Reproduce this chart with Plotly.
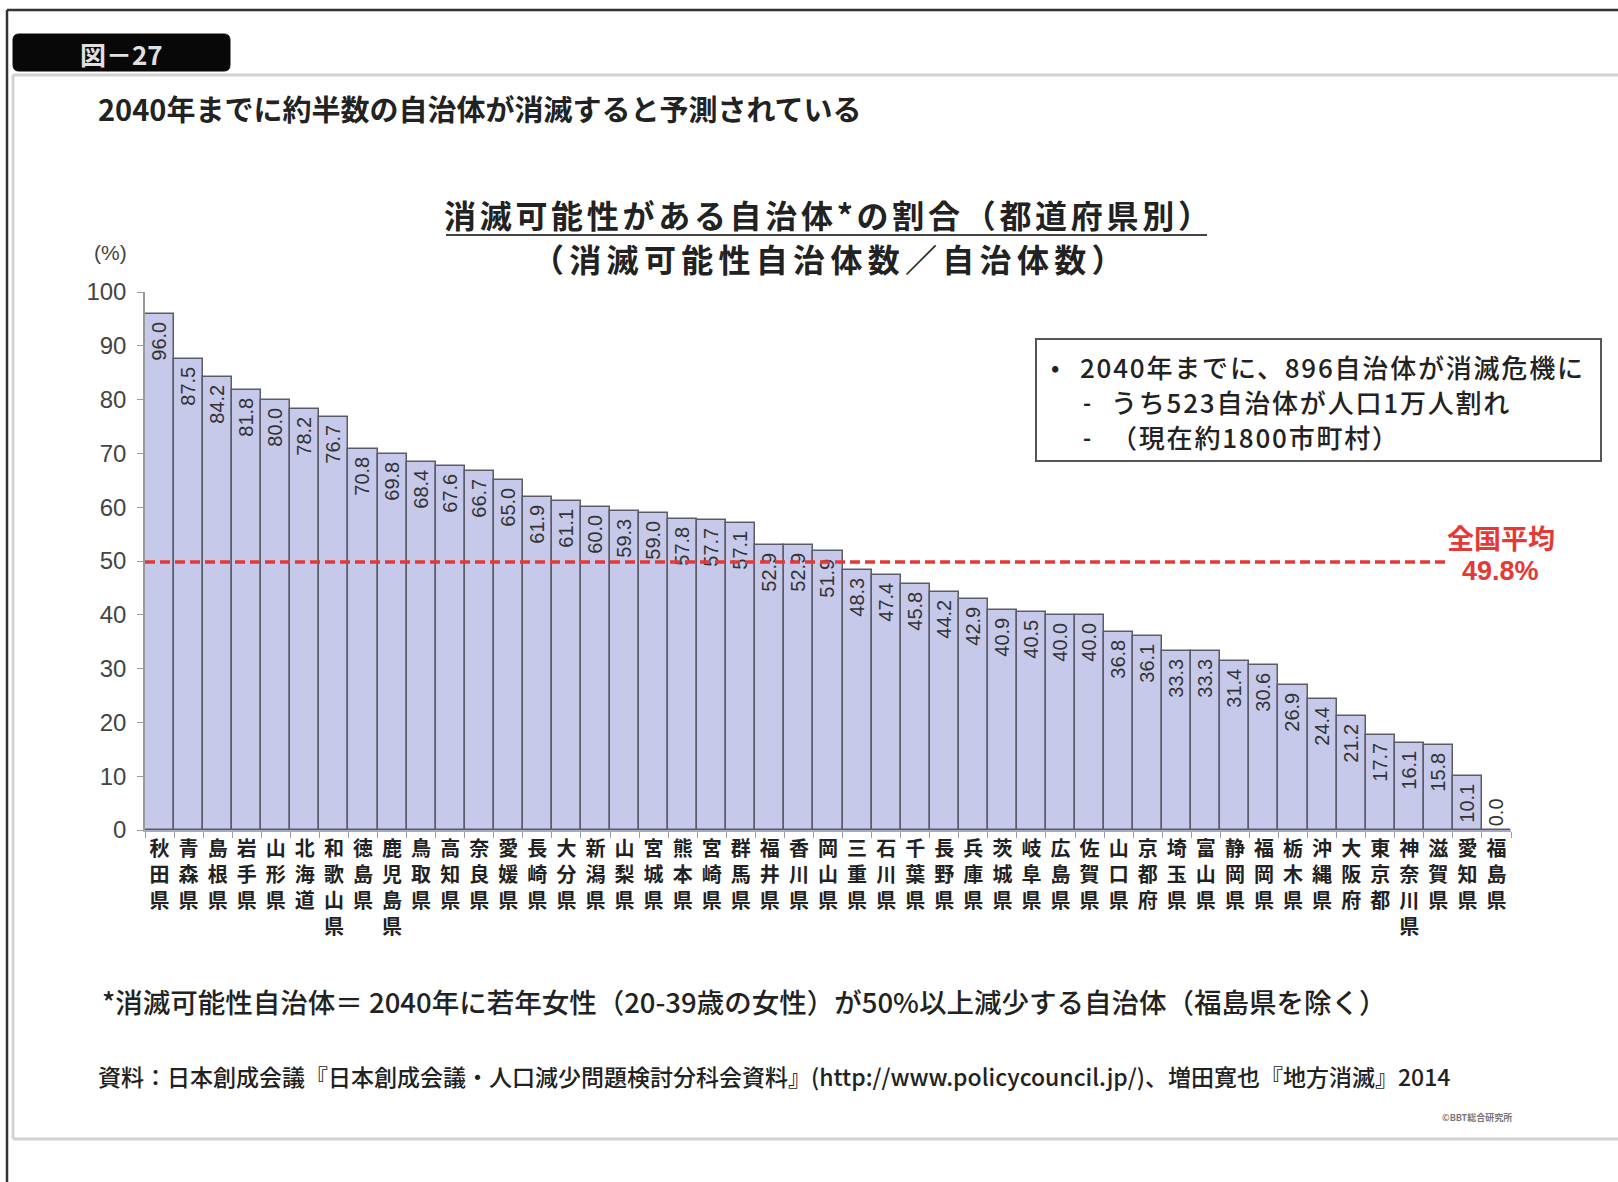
import plotly.graph_objects as go

# ---------------- data ----------------
prefectures = [
    "秋田県", "青森県", "島根県", "岩手県", "山形県", "北海道", "和歌山県", "徳島県",
    "鹿児島県", "鳥取県", "高知県", "奈良県", "愛媛県", "長崎県", "大分県", "新潟県",
    "山梨県", "宮城県", "熊本県", "宮崎県", "群馬県", "福井県", "香川県", "岡山県",
    "三重県", "石川県", "千葉県", "長野県", "兵庫県", "茨城県", "岐阜県", "広島県",
    "佐賀県", "山口県", "京都府", "埼玉県", "富山県", "静岡県", "福岡県", "栃木県",
    "沖縄県", "大阪府", "東京都", "神奈川県", "滋賀県", "愛知県", "福島県",
]
values = [
    96.0, 87.5, 84.2, 81.8, 80.0, 78.2, 76.7, 70.8,
    69.8, 68.4, 67.6, 66.7, 65.0, 61.9, 61.1, 60.0,
    59.3, 59.0, 57.8, 57.7, 57.1, 52.9, 52.9, 51.9,
    48.3, 47.4, 45.8, 44.2, 42.9, 40.9, 40.5, 40.0,
    40.0, 36.8, 36.1, 33.3, 33.3, 31.4, 30.6, 26.9,
    24.4, 21.2, 17.7, 16.1, 15.8, 10.1, 0.0,
]
national_avg = 49.8
y_tick_values = [0, 10, 20, 30, 40, 50, 60, 70, 80, 90, 100]

subtitle = "2040年までに約半数の自治体が消滅すると予測されている"
title_line1 = "消滅可能性がある自治体*の割合（都道府県別）"
title_line2 = "（消滅可能性自治体数／自治体数）"
box_head = "2040年までに、896自治体が消滅危機に"
box_subs = ["うち523自治体が人口1万人割れ", "（現在約1800市町村）"]
footnote = "*消滅可能性自治体＝ 2040年に若年女性（20-39歳の女性）が50%以上減少する自治体（福島県を除く）"
source = "資料：日本創成会議『日本創成会議・人口減少問題検討分科会資料』(http://www.policycouncil.jp/)、増田寛也『地方消滅』2014"
credit = "©BBT総合研究所"
figure_tag = "図－27"

# ---------------- layout helpers ----------------
W, H = 1618, 1182
L, R, T, B = 145, 1511, 292, 830


def px(x):
    return (x - L) / (R - L)


def py(y):
    return (B - y) / (B - T)


FONT = "Liberation Sans, Arial, Noto Sans CJK JP, sans-serif"
JP = "Noto Sans CJK JP, Liberation Sans, sans-serif"

x_labels = ["<br>".join(list(p)) for p in prefectures]

fig = go.Figure(
    go.Bar(
        x=x_labels,
        y=values,
        marker=dict(color="#c6c9e9", line=dict(color="#5c5c68", width=1.5)),
        text=[f"{v:.1f}\u00a0" if v >= 5 else f"{v:.1f}" for v in values],
        textposition=["outside" if v < 5 else "inside" for v in values],
        textangle=-90,
        insidetextanchor="end",
        textfont=dict(family=FONT, size=20, color="#333333"),
        cliponaxis=False,
        hoverinfo="skip",
    )
)

fig.update_layout(
    width=W,
    height=H,
    autosize=False,
    margin=dict(l=L, r=W - R, t=T, b=H - B),
    paper_bgcolor="white",
    plot_bgcolor="white",
    showlegend=False,
    bargap=0,
    font=dict(family=JP, color="#222222"),
)

fig.update_xaxes(
    type="category",
    range=[-0.5, len(values) - 0.5],
    tickson="boundaries",
    ticks="outside",
    ticklen=6,
    tickcolor="#9a9ab0",
    showline=True,
    linecolor="#a8a8c0",
    linewidth=2,
    showgrid=False,
    tickangle=0,
    tickfont=dict(family=JP, size=20, color="#222222", weight="bold"),
)
fig.update_yaxes(
    range=[0, 100],
    tickvals=y_tick_values,
    ticks="outside",
    ticklen=6,
    tickcolor="#999999",
    showline=True,
    linecolor="#999999",
    linewidth=1.5,
    showgrid=False,
    zeroline=False,
    ticklabelstandoff=6,
    tickfont=dict(family=FONT, size=24, color="#444444"),
)

shapes = []
# outer dark frame
shapes.append(dict(type="line", xref="paper", yref="paper", x0=px(7), x1=px(W + 5),
                   y0=py(10), y1=py(10), line=dict(color="#333333", width=2.5)))
shapes.append(dict(type="line", xref="paper", yref="paper", x0=px(7), x1=px(7),
                   y0=py(10), y1=py(H + 5), line=dict(color="#333333", width=2.5)))
# inner light-grey panel
shapes.append(dict(type="line", xref="paper", yref="paper", x0=px(13), x1=px(W + 5),
                   y0=py(75), y1=py(75), line=dict(color="#d2d2d2", width=3)))
shapes.append(dict(type="line", xref="paper", yref="paper", x0=px(13), x1=px(13),
                   y0=py(75), y1=py(1139), line=dict(color="#d2d2d2", width=3)))
shapes.append(dict(type="line", xref="paper", yref="paper", x0=px(13), x1=px(W + 5),
                   y0=py(1139), y1=py(1139), line=dict(color="#d2d2d2", width=3)))
# black tab (rounded corners)
tx0, tx1, ty0, ty1, rr = px(13), px(230), py(71), py(34), 6
rx = rr / (R - L)
ry = rr / (B - T)
tab_path = (
    f"M {tx0 + rx},{ty1} L {tx1 - rx},{ty1} Q {tx1},{ty1} {tx1},{ty1 - ry} "
    f"L {tx1},{ty0 + ry} Q {tx1},{ty0} {tx1 - rx},{ty0} L {tx0 + rx},{ty0} "
    f"Q {tx0},{ty0} {tx0},{ty0 + ry} L {tx0},{ty1 - ry} Q {tx0},{ty1} {tx0 + rx},{ty1} Z"
)
shapes.append(dict(type="path", xref="paper", yref="paper", path=tab_path,
                   fillcolor="#080808", line=dict(color="#080808", width=1)))
# title underline
shapes.append(dict(type="line", xref="paper", yref="paper", x0=px(446), x1=px(1207),
                   y0=py(235), y1=py(235), line=dict(color="#444444", width=2)))
# info box
shapes.append(dict(type="rect", xref="paper", yref="paper", x0=px(1036), x1=px(1601),
                   y0=py(339), y1=py(461), line=dict(color="#555555", width=2),
                   fillcolor="rgba(0,0,0,0)"))
# national average line
shapes.append(dict(type="line", xref="paper", yref="y", x0=0, x1=px(1450),
                   y0=national_avg, y1=national_avg,
                   line=dict(color="#e53935", width=3.5, dash="10px,5px")))

fig.update_layout(shapes=shapes)

ann = []


def add(text, x, y, size, xanchor="left", color="#222222", weight="normal", family=JP,
        spacing=None):
    if spacing:
        text = f"<span style='letter-spacing:{spacing}px'>{text}</span>"
    ann.append(dict(text=text, xref="paper", yref="paper", x=px(x), y=py(y),
                    xanchor=xanchor, yanchor="middle", showarrow=False,
                    font=dict(family=family, size=size, color=color, weight=weight)))


add(figure_tag, 121, 53, 26, xanchor="center", color="#e0e0e0", weight="bold")
add(subtitle, 96, 108, 29, weight="bold")
add(title_line1, 829, 214, 32, xanchor="center", weight="bold", spacing=3.7)
add(title_line2, 830, 258, 32, xanchor="center", weight="bold", spacing=5.3)
add("(%)", 110, 253, 21, xanchor="center", color="#444444", family=FONT)

# info box
add("•", 1055, 366, 22, xanchor="center", weight="bold")
add(box_head, 1078, 366, 26, weight=500, spacing=1.8)
for s, yy in zip(box_subs, [401, 436]):
    add("-", 1087, yy, 22, xanchor="center", weight="bold")
    add(s, 1109, yy, 26, weight=500, spacing=1.8)

add("全国平均", 1501, 537, 27, xanchor="center", color="#e53935", weight="bold")
add(f"{national_avg}%", 1500, 571, 27, xanchor="center", color="#e53935", weight="bold", family=FONT)

add(footnote, 100, 1001, 27.5, weight=500)
add(source, 96, 1076, 23, weight=500)
add(credit, 1514, 1117, 9, xanchor="right", color="#777777", weight="bold")

fig.update_layout(annotations=ann)

fig.write_html("out.html")
